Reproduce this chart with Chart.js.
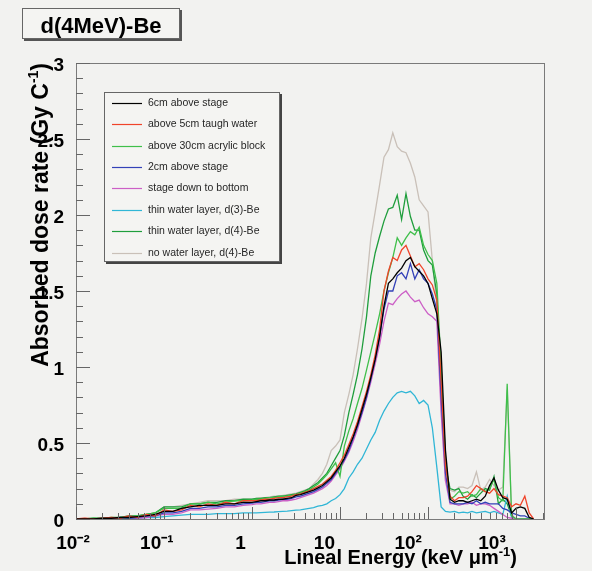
<!DOCTYPE html>
<html>
<head>
<meta charset="utf-8">
<script src="https://cdn.jsdelivr.net/npm/chart.js@4.4.0/dist/chart.umd.min.js"></script>
<style>
html, body { margin: 0; padding: 0; background: #f2f2f0; }
canvas { display: block; }
</style>
</head>
<body>
<canvas id="chartDoseRate" width="592" height="571"></canvas>
<script>
// lineal energy bin centres (keV/um)
var linealEnergy = [
    0.01, 0.0126, 0.0158, 0.02, 0.0251, 0.0316, 0.0398, 0.0501, 0.0631, 0.0794,
    0.1, 0.126, 0.158, 0.2, 0.251, 0.316, 0.398, 0.501, 0.631, 0.794,
    1, 1.12, 1.26, 1.41, 1.58, 1.78, 2, 2.24, 2.51, 2.82,
    3.16, 3.55, 3.98, 4.47, 5.01, 5.62, 6.31, 7.08, 7.94, 8.91,
    10, 11.2, 12.6, 14.1, 15.8, 17.8, 20, 22.4, 25.1, 28.2,
    31.6, 35.5, 39.8, 44.7, 50.1, 56.2, 63.1, 70.8, 79.4, 89.1,
    100, 112, 126, 141, 158, 178, 200, 224,
    251, 282, 316, 355, 398, 447, 501, 562, 631, 708, 794, 891, 1000, 1122, 1259, 1413, 1585
];

// absorbed dose rate (Gy/C) per series
var dose6cm = [
    0, 0, 0, 0.005, 0.005, 0.01, 0.01, 0.015, 0.02, 0.03, 0.05, 0.05, 0.07, 0.08, 0.09, 0.09, 0.09, 0.1, 0.1, 0.11,
    0.11, 0.115, 0.12, 0.12, 0.125, 0.125, 0.13, 0.13, 0.135, 0.14,
    0.155, 0.16, 0.17, 0.18, 0.19, 0.205, 0.22, 0.245, 0.27, 0.31,
    0.35, 0.4, 0.47, 0.54, 0.62, 0.72, 0.82, 0.93, 1.05, 1.2,
    1.4, 1.55, 1.58, 1.62, 1.65, 1.7, 1.72, 1.66, 1.63, 1.6,
    1.55, 1.45, 1.35, 1.1, 0.45, 0.13, 0.11, 0.12,
    0.12, 0.11, 0.12, 0.13, 0.12, 0.15, 0.22, 0.27, 0.19, 0.14, 0.13, 0.04, 0.07, 0.08, 0.07, 0.01, 0
];
var dose5cmWater = [
    0, 0.005, 0, 0.005, 0.01, 0.005, 0.02, 0.01, 0.03, 0.02, 0.06, 0.05, 0.06, 0.09, 0.08, 0.1, 0.09, 0.11, 0.1, 0.12,
    0.12, 0.12, 0.125, 0.13, 0.13, 0.135, 0.14, 0.14, 0.145, 0.15,
    0.16, 0.165, 0.175, 0.185, 0.2, 0.215, 0.23, 0.255, 0.28, 0.32,
    0.37, 0.42, 0.49, 0.56, 0.64, 0.74, 0.84, 0.95, 1.08, 1.25,
    1.5, 1.63, 1.72, 1.7, 1.77, 1.8, 1.73, 1.66, 1.68, 1.64,
    1.58, 1.54, 1.44, 0.9, 0.35, 0.15, 0.12, 0.14,
    0.14, 0.15, 0.18, 0.22, 0.2, 0.18, 0.17, 0.2, 0.16, 0.15, 0.14, 0.08, 0.1, 0.09, 0.15, 0.04, 0
];
var doseAcrylic = [
    0, 0, 0.005, 0, 0.01, 0.01, 0.01, 0.02, 0.03, 0.04, 0.07, 0.07, 0.07, 0.1, 0.1, 0.11, 0.1, 0.11, 0.12, 0.12,
    0.125, 0.13, 0.13, 0.135, 0.14, 0.14, 0.145, 0.15, 0.15, 0.155,
    0.16, 0.17, 0.18, 0.19, 0.21, 0.23, 0.26, 0.29, 0.33, 0.37,
    0.28, 0.48, 0.58, 0.66, 0.76, 0.86, 0.98, 1.1, 1.22, 1.35,
    1.5, 1.62, 1.72, 1.85, 1.8, 1.85, 1.89, 1.87, 1.92, 1.8,
    1.74, 1.7, 1.55, 1.0, 0.4, 0.13, 0.15, 0.18,
    0.17, 0.18, 0.15, 0.16, 0.2, 0.18, 0.2, 0.26, 0.14, 0.12, 0.89, 0.02, 0, 0, 0, 0, 0
];
var dose2cm = [
    0, 0, 0, 0, 0.005, 0.01, 0.005, 0.01, 0.02, 0.02, 0.04, 0.04, 0.05, 0.07, 0.07, 0.08, 0.08, 0.09, 0.09, 0.1,
    0.105, 0.11, 0.11, 0.115, 0.12, 0.12, 0.125, 0.13, 0.13, 0.135,
    0.145, 0.15, 0.16, 0.17, 0.18, 0.195, 0.21, 0.235, 0.26, 0.3,
    0.34, 0.39, 0.45, 0.53, 0.61, 0.7, 0.8, 0.92, 1.05, 1.2,
    1.38, 1.5, 1.5, 1.6, 1.62, 1.58, 1.68, 1.58, 1.64, 1.58,
    1.55, 1.48, 1.38, 0.8, 0.3, 0.11, 0.1, 0.1,
    0.1, 0.11, 0.1, 0.12, 0.1, 0.11, 0.1, 0.1, 0.1, 0.07, 0.06, 0.04, 0.03, 0.02, 0.02, 0.005, 0
];
var doseStage = [
    0, 0, 0, 0, 0, 0.005, 0.01, 0.005, 0.01, 0.02, 0.03, 0.03, 0.04, 0.06, 0.06, 0.065, 0.07, 0.08, 0.08, 0.09,
    0.095, 0.1, 0.1, 0.105, 0.11, 0.11, 0.115, 0.12, 0.12, 0.125,
    0.13, 0.14, 0.15, 0.16, 0.17, 0.185, 0.2, 0.22, 0.25, 0.29,
    0.33, 0.38, 0.44, 0.51, 0.59, 0.69, 0.79, 0.9, 1.02, 1.15,
    1.3, 1.42, 1.41, 1.45, 1.48, 1.5, 1.46, 1.43, 1.44, 1.39,
    1.35, 1.33, 1.3, 0.7, 0.25, 0.1, 0.1, 0.09,
    0.1, 0.1, 0.11, 0.09, 0.1, 0.1, 0.09, 0.07, 0.05, 0.03, 0.01, 0.005, 0, 0, 0, 0, 0
];
var doseThinD3 = [
    0, 0, 0, 0, 0, 0, 0.005, 0.005, 0.01, 0.01, 0.015, 0.02, 0.025, 0.03, 0.03, 0.03, 0.035, 0.035, 0.035, 0.04,
    0.04, 0.04, 0.042, 0.044, 0.045, 0.046, 0.048, 0.05, 0.052, 0.055,
    0.058, 0.06, 0.065, 0.07, 0.075, 0.085, 0.09, 0.1, 0.12, 0.135,
    0.16, 0.2, 0.27, 0.31, 0.36, 0.4, 0.46, 0.52, 0.57, 0.65,
    0.71, 0.76, 0.8, 0.83, 0.84, 0.83, 0.84, 0.81, 0.76, 0.78,
    0.75, 0.6, 0.34, 0.08, 0.05, 0.045, 0.05, 0.04,
    0.045, 0.04, 0.05, 0.04, 0.045, 0.05, 0.04, 0.05, 0.04, 0.03, 0.15, 0.01, 0, 0, 0, 0, 0
];
var doseThinD4 = [
    0, 0, 0.005, 0.005, 0.005, 0.01, 0.02, 0.02, 0.03, 0.04, 0.08, 0.08, 0.08, 0.1, 0.1, 0.11, 0.11, 0.12, 0.12, 0.13,
    0.13, 0.135, 0.135, 0.14, 0.14, 0.145, 0.15, 0.15, 0.155, 0.16,
    0.165, 0.175, 0.185, 0.2, 0.22, 0.24, 0.27, 0.3, 0.35, 0.4,
    0.45, 0.55, 0.7, 0.82, 0.95, 1.12, 1.33, 1.6, 1.75, 1.86,
    1.96, 2.04, 2.05, 2.13, 1.97, 2.14, 1.99, 1.9, 1.9, 1.77,
    1.7, 1.67, 1.48, 0.9, 0.35, 0.2, 0.19, 0.2,
    0.15, 0.13, 0.16, 0.14, 0.17, 0.2, 0.19, 0.28, 0.1, 0.13, 0.1, 0.02, 0, 0, 0, 0, 0
];
var doseNoWater = [
    0, 0.005, 0, 0.005, 0.01, 0.01, 0.02, 0.02, 0.03, 0.04, 0.08, 0.08, 0.09, 0.1, 0.11, 0.12, 0.12, 0.12, 0.13, 0.13,
    0.13, 0.135, 0.14, 0.14, 0.145, 0.15, 0.15, 0.155, 0.16, 0.165,
    0.17, 0.18, 0.19, 0.2, 0.23, 0.26, 0.3, 0.36, 0.45, 0.48,
    0.52, 0.7, 0.82, 0.95, 1.12, 1.32, 1.55, 1.85, 2.02, 2.2,
    2.38, 2.43, 2.54, 2.45, 2.42, 2.41, 2.34, 2.25, 2.1, 2.06,
    2.02, 1.7, 1.4, 0.75, 0.25, 0.19, 0.18, 0.21,
    0.21, 0.2, 0.22, 0.31, 0.19, 0.21, 0.26, 0.22, 0.19, 0.21, 0.85, 0.03, 0, 0, 0, 0, 0
];

var seriesNames = [
    '6cm above stage',
    'above 5cm taugh water',
    'above 30cm acrylic block',
    '2cm above stage',
    'stage down to bottom',
    'thin water layer, d(3)-Be',
    'thin water layer, d(4)-Be',
    'no water layer, d(4)-Be'
];
var seriesValues = [dose6cm, dose5cmWater, doseAcrylic, dose2cm, doseStage, doseThinD3, doseThinD4, doseNoWater];
var seriesColors = ['#000000', '#f0442a', '#3fbf4a', '#3341b8', '#cc5fc6', '#30b6d6', '#1f9e3c', '#c9c0b8'];

var xTickValues = [0.01, 0.1, 1, 10, 100, 1000];
var xTickLabels = ['10\u207B\u00B2', '10\u207B\u00B9', '1', '10', '10\u00B2', '10\u00B3'];

Chart.defaults.font.family = '"Liberation Sans", Arial, Helvetica, sans-serif';

// draw text with a superscript part (ROOT style), anchored at its right end
function drawSupText(ctx, parts, xRight, yBase, size, supSize) {
    var total = 0;
    parts.forEach(function(p) {
        ctx.font = 'bold ' + (p.sup ? supSize : size) + 'px ' + Chart.defaults.font.family;
        p.w = ctx.measureText(p.t).width;
        total += p.w;
    });
    var x = xRight - total;
    parts.forEach(function(p) {
        ctx.font = 'bold ' + (p.sup ? supSize : size) + 'px ' + Chart.defaults.font.family;
        ctx.fillText(p.t, x, p.sup ? yBase - size * 0.42 : yBase);
        x += p.w;
    });
}

var rootStyle = {
    id: 'rootStyle',
    beforeDraw: function(chart) {
        var ctx = chart.ctx;
        ctx.save();
        ctx.fillStyle = '#f2f2f0';
        ctx.fillRect(0, 0, chart.width, chart.height);
        ctx.restore();
    },
    afterDatasetsDraw: function(chart) {
        var ctx = chart.ctx, a = chart.chartArea;
        var xs = chart.scales.x, ys = chart.scales.y;
        ctx.save();
        ctx.strokeStyle = '#7a7a7a';
        ctx.lineWidth = 1;
        ctx.strokeRect(Math.round(a.left) + 0.5, Math.round(a.top) + 0.5, Math.round(a.right - a.left), Math.round(a.bottom - a.top));
        ctx.strokeStyle = '#666666';
        ctx.beginPath();
        for (var k = 0; k <= 30; k++) {
            var py = Math.round(ys.getPixelForValue(k / 10)) + 0.5;
            var len = (k % 5 === 0) ? 14 : 7;
            ctx.moveTo(a.left, py);
            ctx.lineTo(a.left + len, py);
        }
        for (var d = -2; d <= 3; d++) {
            for (var m = 1; m <= 9; m++) {
                var v = m * Math.pow(10, d);
                if (v > xs.max) break;
                var px = Math.round(xs.getPixelForValue(v)) + 0.5;
                var len2 = (m === 1) ? 12 : 6;
                ctx.moveTo(px, a.bottom);
                ctx.lineTo(px, a.bottom - len2);
            }
        }
        ctx.stroke();
        ctx.restore();
    },
    afterDraw: function(chart) {
        var ctx = chart.ctx;
        ctx.save();

        // title box
        ctx.fillStyle = '#555555';
        ctx.fillRect(24, 39, 158, 2);
        ctx.fillRect(180, 10, 2, 31);
        ctx.fillStyle = '#f4f4f2';
        ctx.fillRect(22, 8, 158, 31);
        ctx.strokeStyle = '#666666';
        ctx.lineWidth = 1;
        ctx.strokeRect(22.5, 8.5, 157, 30);
        ctx.fillStyle = '#000000';
        ctx.font = 'bold 22px ' + Chart.defaults.font.family;
        ctx.textAlign = 'center';
        ctx.textBaseline = 'alphabetic';
        ctx.fillText('d(4MeV)-Be', 101, 33);

        // legend
        ctx.fillStyle = '#444444';
        ctx.fillRect(106, 262, 176, 2);
        ctx.fillRect(280, 94, 2, 170);
        ctx.fillStyle = '#f4f4f2';
        ctx.fillRect(104, 92, 176, 170);
        ctx.strokeStyle = '#666666';
        ctx.strokeRect(104.5, 92.5, 175, 169);
        ctx.textAlign = 'left';
        ctx.textBaseline = 'middle';
        ctx.font = '10.5px ' + Chart.defaults.font.family;
        chart.data.datasets.forEach(function(ds, i) {
            var y = Math.round(102.7 + i * 21.4) + 0.5;
            ctx.strokeStyle = ds.borderColor;
            ctx.lineWidth = 1.2;
            ctx.beginPath();
            ctx.moveTo(112, y);
            ctx.lineTo(142, y);
            ctx.stroke();
            ctx.fillStyle = '#262626';
            ctx.fillText(ds.label, 148, y);
        });

        // axis titles
        ctx.fillStyle = '#000000';
        ctx.textAlign = 'left';
        ctx.textBaseline = 'alphabetic';
        drawSupText(ctx, [{t: 'Lineal Energy (keV \u03BCm'}, {t: '-1', sup: true}, {t: ')'}], 517, 564, 20, 13);

        ctx.translate(48, 63);
        ctx.rotate(-Math.PI / 2);
        drawSupText(ctx, [{t: 'Absorbed dose rate (Gy C'}, {t: '-1', sup: true}, {t: ')'}], 0, 0, 23, 14);
        ctx.restore();
    }
};

var ctx = document.getElementById('chartDoseRate').getContext('2d');
var chartDoseRate = new Chart(ctx, {
    type: 'line',
    data: {
        datasets: seriesNames.map(function(name, i) {
            return {
                label: name,
                data: linealEnergy.map(function(x, j) { return {x: x, y: seriesValues[i][j]}; }),
                borderColor: seriesColors[i],
                backgroundColor: seriesColors[i],
                borderWidth: 1.3,
                pointRadius: 0,
                tension: 0,
                fill: false,
                xAxisID: 'x',
                yAxisID: 'y'
            };
        })
    },
    options: {
        responsive: false,
        animation: false,
        devicePixelRatio: 1,
        layout: { padding: { left: 0, right: 48, top: 63, bottom: 0 } },
        plugins: { legend: { display: false }, tooltip: { enabled: false } },
        scales: {
            x: { type: 'logarithmic', display: false, min: 0.01, max: 2080 },
            // label axis: the printed decade labels sit on a slightly compressed spacing
            xl: {
                type: 'logarithmic', axis: 'x', position: 'bottom',
                min: 0.010859, max: 4174,
                grid: { display: false }, border: { display: false },
                afterBuildTicks: function(s) { s.ticks = xTickValues.map(function(v) { return {value: v}; }); },
                afterFit: function(s) { s.height = 52; },
                ticks: {
                    autoSkip: false, maxRotation: 0, minRotation: 0, padding: 5,
                    color: '#000000', font: { size: 19, weight: 'bold' },
                    callback: function(v, i) { return xTickLabels[i]; }
                }
            },
            y: {
                type: 'linear', min: 0, max: 3,
                grid: { display: false }, border: { display: false },
                afterFit: function(s) { s.width = 76; },
                ticks: {
                    stepSize: 0.5, padding: 4, labelOffset: 3, color: '#000000', font: { size: 19, weight: 'bold' },
                    callback: function(v) { return String(v); }
                }
            }
        }
    },
    plugins: [rootStyle]
});
</script>
</body>
</html>
